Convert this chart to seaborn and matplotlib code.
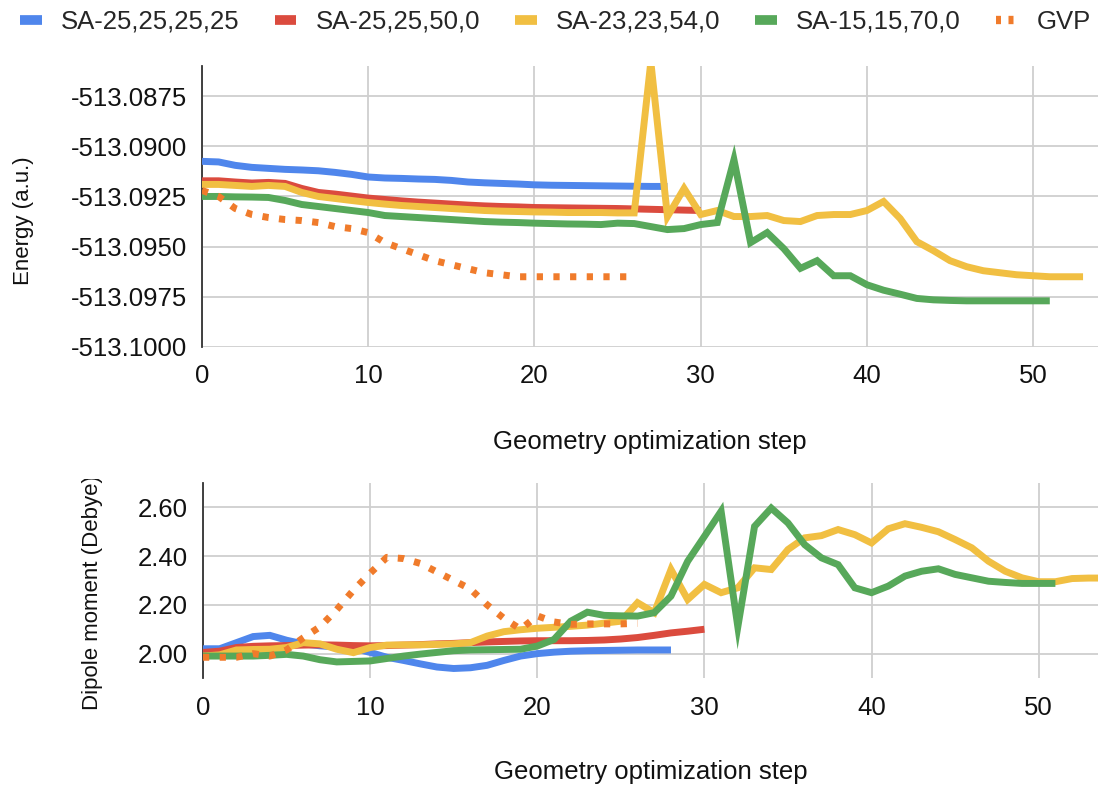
import numpy as np
import pandas as pd
import matplotlib
matplotlib.use("Agg")
import matplotlib.pyplot as plt
import seaborn as sns
from matplotlib.lines import Line2D
from matplotlib.patches import Rectangle

# ---------------- data ----------------
series_names = ["SA-25,25,25,25", "SA-25,25,50,0", "SA-23,23,54,0", "SA-15,15,70,0", "GVP"]
colors = ["#4F86EC", "#DB4B3E", "#F1BF42", "#57A85A", "#F07B2B"]

energy_sa25_25_25_25 = [-513.09075, -513.09078, -513.09095, -513.09105, -513.09110, -513.09115,
                        -513.09118, -513.09122, -513.09130, -513.09140, -513.09153, -513.09158,
                        -513.09160, -513.09163, -513.09165, -513.09170, -513.09178, -513.09182,
                        -513.09185, -513.09188, -513.09192, -513.09194, -513.09195, -513.09196,
                        -513.09197, -513.09198, -513.09199, -513.09200, -513.09200]
energy_sa25_25_50_0 = [-513.09172, -513.09172, -513.09178, -513.09183, -513.09180, -513.09185,
                       -513.09210, -513.09230, -513.09238, -513.09248, -513.09258, -513.09265,
                       -513.09272, -513.09278, -513.09283, -513.09288, -513.09293, -513.09297,
                       -513.09300, -513.09302, -513.09305, -513.09306, -513.09307, -513.09308,
                       -513.09309, -513.09310, -513.09312, -513.09314, -513.09316, -513.09318,
                       -513.09320]
energy_sa23_23_54_0 = [-513.09190, -513.09190, -513.09195, -513.09200, -513.09195, -513.09200,
                       -513.09230, -513.09250, -513.09260, -513.09270, -513.09280, -513.09288,
                       -513.09295, -513.09300, -513.09305, -513.09310, -513.09315, -513.09320,
                       -513.09323, -513.09325, -513.09327, -513.09328, -513.09330, -513.09330,
                       -513.09330, -513.09332, -513.09332, -513.08580, -513.09350, -513.09210,
                       -513.09340, -513.09320, -513.09350, -513.09350, -513.09345, -513.09370,
                       -513.09375, -513.09345, -513.09340, -513.09340, -513.09320, -513.09275,
                       -513.09360, -513.09475, -513.09520, -513.09570, -513.09600, -513.09620,
                       -513.09630, -513.09640, -513.09645, -513.09650, -513.09650, -513.09650]
energy_sa15_15_70_0 = [-513.09250, -513.09250, -513.09252, -513.09253, -513.09255, -513.09270,
                       -513.09290, -513.09300, -513.09310, -513.09320, -513.09330, -513.09345,
                       -513.09350, -513.09355, -513.09360, -513.09365, -513.09370, -513.09375,
                       -513.09378, -513.09380, -513.09383, -513.09385, -513.09387, -513.09388,
                       -513.09390, -513.09383, -513.09385, -513.09400, -513.09415, -513.09410,
                       -513.09390, -513.09380, -513.09067, -513.09480, -513.09430, -513.09510,
                       -513.09608, -513.09570, -513.09645, -513.09645, -513.09690, -513.09717,
                       -513.09737, -513.09758, -513.09765, -513.09768, -513.09770, -513.09770,
                       -513.09770, -513.09770, -513.09770, -513.09770]
energy_gvp = [-513.09220, -513.09250, -513.09310, -513.09340, -513.09355, -513.09365,
              -513.09370, -513.09380, -513.09400, -513.09410, -513.09430, -513.09480,
              -513.09510, -513.09540, -513.09570, -513.09590, -513.09610, -513.09630,
              -513.09640, -513.09650, -513.09650, -513.09650, -513.09650, -513.09650,
              -513.09650, -513.09650, -513.09650]

dipole_sa25_25_25_25 = [2.020, 2.020, 2.045, 2.070, 2.075, 2.055, 2.040, 2.032, 2.027, 2.022,
                        2.005, 1.985, 1.972, 1.958, 1.945, 1.939, 1.942, 1.952, 1.972, 1.990,
                        2.000, 2.006, 2.010, 2.012, 2.013, 2.014, 2.015, 2.015, 2.015]
dipole_sa25_25_50_0 = [2.005, 2.010, 2.025, 2.030, 2.032, 2.033, 2.035, 2.036, 2.035, 2.033,
                       2.032, 2.033, 2.035, 2.037, 2.040, 2.042, 2.045, 2.048, 2.050, 2.052,
                       2.053, 2.053, 2.053, 2.054, 2.056, 2.060, 2.066, 2.075, 2.085, 2.092,
                       2.100]
dipole_sa23_23_54_0 = [1.990, 1.995, 2.015, 2.017, 2.018, 2.025, 2.045, 2.040, 2.018, 2.004,
                       2.025, 2.035, 2.036, 2.036, 2.038, 2.040, 2.045, 2.072, 2.090, 2.098,
                       2.104, 2.108, 2.112, 2.117, 2.125, 2.133, 2.209, 2.168, 2.345, 2.222,
                       2.284, 2.250, 2.270, 2.352, 2.345, 2.427, 2.475, 2.484, 2.509, 2.488,
                       2.454, 2.512, 2.533, 2.518, 2.500, 2.468, 2.434, 2.379, 2.338, 2.311,
                       2.295, 2.295, 2.308, 2.310, 2.310]
dipole_sa15_15_70_0 = [1.990, 1.990, 1.990, 1.990, 1.993, 1.997, 1.990, 1.975, 1.966, 1.968,
                       1.970, 1.980, 1.990, 1.998, 2.005, 2.012, 2.015, 2.016, 2.017, 2.018,
                       2.031, 2.058, 2.133, 2.170, 2.157, 2.155, 2.154, 2.168, 2.236, 2.379,
                       2.481, 2.584, 2.110, 2.522, 2.597, 2.536, 2.447, 2.393, 2.365, 2.270,
                       2.250, 2.277, 2.318, 2.338, 2.348, 2.325, 2.311, 2.297, 2.292, 2.288,
                       2.288, 2.288]
dipole_gvp = [1.985, 1.985, 1.985, 2.000, 1.990, 2.015, 2.065, 2.110, 2.180, 2.260, 2.330,
              2.395, 2.390, 2.370, 2.335, 2.300, 2.265, 2.200, 2.145, 2.100, 2.155, 2.130,
              2.120, 2.122, 2.122, 2.122, 2.124]

energy_series = [energy_sa25_25_25_25, energy_sa25_25_50_0, energy_sa23_23_54_0,
                 energy_sa15_15_70_0, energy_gvp]
dipole_series = [dipole_sa25_25_25_25, dipole_sa25_25_50_0, dipole_sa23_23_54_0,
                 dipole_sa15_15_70_0, dipole_gvp]

energy_ticks = [-513.1000, -513.0975, -513.0950, -513.0925, -513.0900, -513.0875]
dipole_ticks = [2.00, 2.20, 2.40, 2.60]
x_ticks = [0, 10, 20, 30, 40, 50]

# ---------------- style ----------------
sns.set_theme(style="white")
plt.rcParams["font.family"] = ["Liberation Sans", "DejaVu Sans"]

W, H = 1098, 785
fig = plt.figure(figsize=(W / 100, H / 100), dpi=100)
fig.patch.set_facecolor("white")

def px_axes(left, top, right, bottom):
    return fig.add_axes([left / W, 1 - bottom / H, (right - left) / W, (bottom - top) / H])

ax1 = px_axes(202, 66, 1098, 347)
ax2 = px_axes(203, 483, 1098, 678)

LW = 5.0
dot_style = (0, (0.9, 1.5))
TXT = "#111111"
FS = 18.5

def draw(ax, series):
    for name, vals, col in zip(series_names, series, colors):
        df = pd.DataFrame({"step": np.arange(len(vals)), "value": vals})
        if name == "GVP":
            sns.lineplot(data=df, x="step", y="value", ax=ax, color=col, lw=LW,
                         linestyle=dot_style, dash_capstyle="butt", zorder=4)
        else:
            sns.lineplot(data=df, x="step", y="value", ax=ax, color=col, lw=LW,
                         solid_joinstyle="miter", solid_capstyle="butt", zorder=3)

draw(ax1, energy_series)
draw(ax2, dipole_series)

grid_col = "#CFCFCF"
for ax in (ax1, ax2):
    ax.set_facecolor("white")
    for s in ("top", "right", "bottom"):
        ax.spines[s].set_visible(False)
    ax.spines["left"].set_color("#333333")
    ax.spines["left"].set_linewidth(1.3)
    ax.set_xticks(x_ticks)
    ax.grid(True, color=grid_col, lw=1.3)
    ax.set_axisbelow(True)
    ax.tick_params(axis="both", length=0, labelsize=FS, colors=TXT)

ax1.set_xlim(0, 53.9)
ax1.set_ylim(-513.1000, -513.0860)
ax1.set_yticks(energy_ticks)
ax1.set_yticklabels([f"{v:.4f}" for v in energy_ticks])
ax1.tick_params(axis="y", pad=11)
ax1.tick_params(axis="x", pad=12)

ax2.set_xlim(0, 53.55)
ax2.set_ylim(1.90, 2.70)
ax2.set_yticks(dipole_ticks)
ax2.set_yticklabels([f"{v:.2f}" for v in dipole_ticks])
ax2.tick_params(axis="y", pad=11)
ax2.tick_params(axis="x", pad=13)

ax1.set_xlabel("Geometry optimization step", fontsize=FS, color=TXT)
ax1.xaxis.label.set_va("center")
ax1.xaxis.set_label_coords(0.5, -0.338)
ax2.set_xlabel("Geometry optimization step", fontsize=FS, color=TXT)
ax2.xaxis.label.set_va("center")
ax2.xaxis.set_label_coords(0.5, -0.48)

ax1.set_ylabel("Energy (a.u.)", fontsize=16, color=TXT)
ax1.yaxis.label.set_va("center")
ax1.yaxis.set_label_coords(-0.199, 0.448)
ax2.set_ylabel("Dipole moment (Debye)", fontsize=16, color=TXT)
ax2.yaxis.label.set_va("center")
ax2.yaxis.set_label_coords(-0.123, 0.44)

# the reference crops the top of the dipole label slightly
fig.add_artist(Rectangle((60 / W, 1 - 479 / H), 70 / W, 25 / H, transform=fig.transFigure,
                         facecolor="white", edgecolor="none", zorder=20))

handles = []
for name, col in zip(series_names, colors):
    if name == "GVP":
        handles.append(Line2D([], [], color=col, lw=6, linestyle=(0, (0.6, 0.9)),
                              dash_capstyle="butt"))
    else:
        handles.append(Line2D([], [], color=col, lw=7, solid_capstyle="butt"))
fig.legend(handles, series_names, loc="center", bbox_to_anchor=(0.506, 0.972),
           ncol=5, frameon=False, fontsize=FS, handlelength=0.85,
           handletextpad=0.75, columnspacing=1.35)

fig.savefig("out.png", dpi=100, facecolor="white")
